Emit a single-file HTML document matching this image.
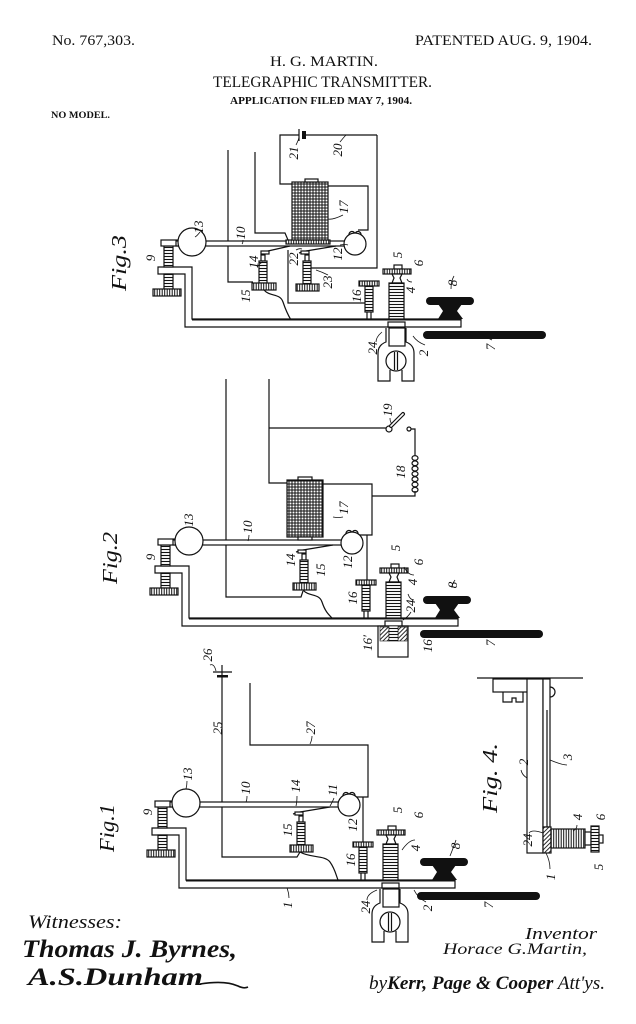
<!DOCTYPE html>
<html><head><meta charset="utf-8">
<style>
html,body{margin:0;padding:0;background:#fff}
svg{display:block}
.t{font-family:"Liberation Serif",serif;fill:#111}
.n{font-family:"Liberation Serif",serif;font-style:italic;font-size:13px;fill:#111}
.f{font-family:"Liberation Serif",serif;font-style:italic;font-size:21px;fill:#111}
</style></head>
<body>
<svg width="636" height="1024" viewBox="0 0 636 1024" xmlns="http://www.w3.org/2000/svg">
<defs>
<pattern id="hs" width="6" height="3" patternUnits="userSpaceOnUse"><rect width="6" height="3" fill="#fff"/><path d="M0,1.5H6" stroke="#111" stroke-width="1.1"/></pattern>
<pattern id="vs" width="2.5" height="6" patternUnits="userSpaceOnUse"><rect width="2.5" height="6" fill="#fff"/><path d="M1.2,0V6" stroke="#111" stroke-width="1"/></pattern>
<pattern id="grid" width="3" height="3" patternUnits="userSpaceOnUse"><rect width="3" height="3" fill="#fff"/><path d="M0,1H3M1,0V3" stroke="#111" stroke-width="1"/></pattern>
<pattern id="diag" width="3" height="3" patternUnits="userSpaceOnUse" patternTransform="rotate(45)"><rect width="3" height="3" fill="#fff"/><path d="M1,0V3" stroke="#111" stroke-width="0.9"/></pattern>

<g id="base" stroke="#111" stroke-width="1.2" fill="none">
  <polygon points="152,828 186,828 186,880 455,880 455,888 179,888 179,835 152,835" fill="#fff"/>
  <line x1="186" y1="880.5" x2="455" y2="880.5" stroke-width="2"/>
  <rect x="158" y="807" width="9" height="21" fill="url(#hs)"/>
  <rect x="158" y="835" width="9" height="15" fill="url(#hs)"/>
  <rect x="147" y="850" width="28" height="7" fill="url(#vs)"/>
  <rect x="155" y="801" width="17" height="6" fill="#fff"/>
  <rect x="170" y="802" width="172" height="5" fill="#fff"/>
  <circle cx="186" cy="803" r="14" fill="#fff"/>
  <path d="M343,796 a3,3 0 1 1 6,-1 a3,3 0 1 1 6,1"/>
  <circle cx="349" cy="805" r="11" fill="#fff"/>
  <path d="M330,807 L300,812 L293,814"/>
  <rect x="295" y="812" width="8" height="3" fill="#fff"/>
  <rect x="299" y="816" width="4" height="6" fill="#fff"/>
  <rect x="297" y="822" width="8" height="23" fill="url(#hs)"/>
  <rect x="290" y="845" width="23" height="7" fill="url(#vs)"/>
  <rect x="353" y="842" width="20" height="5" fill="url(#vs)"/>
  <rect x="359" y="847" width="8" height="26" fill="url(#hs)"/>
  <rect x="361" y="873" width="4" height="7" fill="#fff"/>
  <rect x="388" y="826" width="8" height="4" fill="#fff"/>
  <rect x="377" y="830" width="28" height="5" fill="url(#vs)"/>
  <path d="M386,835 h10 l-2,4 l2,5 h-10 l2,-5z" fill="#fff"/>
  <rect x="383" y="844" width="15" height="36" fill="url(#hs)"/>
  <rect x="382" y="883" width="17" height="5" fill="#fff"/>
  <g fill="#111" stroke="none">
    <rect x="420" y="858" width="48" height="8" rx="4"/>
    <path d="M432,865 H456 L451,872 L457,880 H432 L437,872 Z"/>
    <rect x="417" y="892" width="123" height="8" rx="4"/>
  </g>
</g>

<g id="clamp" stroke="#111" stroke-width="1.2" fill="none">
  <path d="M380,889 V903 Q372,906 372,914 V942 H384 V931 M396,931 V942 H408 V914 Q408,906 400,903 V889" fill="#fff"/>
  <rect x="383" y="889" width="16" height="18" fill="#fff"/>
  <circle cx="390" cy="922" r="10" fill="#fff"/>
  <path d="M388.5,913 V931 M391.5,913 V931"/>
</g>
</defs>

<!-- HEADER -->
<text class="t" x="52" y="45" font-size="15" textLength="83" lengthAdjust="spacingAndGlyphs">No. 767,303.</text>
<text class="t" x="415" y="45" font-size="15" textLength="177" lengthAdjust="spacingAndGlyphs">PATENTED AUG. 9, 1904.</text>
<text class="t" x="270" y="66" font-size="15" textLength="108" lengthAdjust="spacingAndGlyphs">H. G. MARTIN.</text>
<text class="t" x="213" y="87" font-size="16" textLength="219" lengthAdjust="spacingAndGlyphs">TELEGRAPHIC TRANSMITTER.</text>
<text class="t" x="230" y="104" font-size="10" textLength="182" lengthAdjust="spacingAndGlyphs" font-weight="bold">APPLICATION FILED MAY 7, 1904.</text>
<text class="t" x="51" y="118" font-size="9" textLength="59" lengthAdjust="spacingAndGlyphs" font-weight="bold">NO MODEL.</text>

<g stroke="#111" stroke-width="1.2" fill="none">
<!-- FIG 3 wires -->
<path d="M228,150 V282 H253"/>
<path d="M255,152 V233 H285 L288,240"/>
<path d="M288,250 V303 H365"/>
<path d="M377,135 V268 H311"/>
<path d="M292,184 H280 V135 H299"/>
<path d="M299,129 V141"/>
<path d="M306,135 H377"/>
<path d="M328,186 H368 V230 H358"/>
<!-- FIG 2 wires -->
<path d="M226,379 V597 H301 L303,591"/>
<path d="M269,379 V483 H287"/>
<path d="M269,428 H386"/>
<path d="M411,429 H415 V455"/>
<path d="M415,491 V496 H372"/>
<path d="M323,484 H372 V535 H357"/>
<path d="M367,535 V580"/>
<!-- FIG 1 wires -->
<path d="M222,665 V857 H297 L300,852"/>
<path d="M213,672 H232"/>
<path d="M250,683 V745 H368 V797 H356"/>
<path d="M363,797 V842"/>
</g>
<rect x="302" y="131" width="4" height="8" fill="#111"/>
<rect x="217" y="675" width="11" height="2.5" fill="#111"/>

<!-- bases -->
<use href="#base" transform="translate(6,-561)"/>
<use href="#clamp" transform="translate(6,-561)"/>
<use href="#base" transform="translate(3,-262)"/>
<use href="#base"/>
<use href="#clamp"/>

<g stroke="#111" stroke-width="1.2" fill="none">
<!-- FIG 3 specifics -->
<rect x="286" y="240" width="44" height="4" fill="url(#vs)"/>
<rect x="292" y="182" width="36" height="58" fill="url(#grid)"/>
<rect x="305" y="179" width="13" height="3" fill="#fff"/>
<path d="M290,246 L268,251 L263,253"/>
<rect x="261" y="251" width="8" height="3" fill="#fff"/>
<rect x="261" y="255" width="4" height="6" fill="#fff"/>
<rect x="259" y="261" width="8" height="22" fill="url(#hs)"/>
<rect x="252" y="283" width="24" height="7" fill="url(#vs)"/>
<path d="M264,290 C270,297 280,293 283,302 S288,315 291,320"/>
<!-- FIG 2 specifics -->
<rect x="287" y="480" width="36" height="57" fill="url(#grid)"/>
<rect x="298" y="477" width="14" height="3" fill="#fff"/>
<rect x="298" y="537" width="14" height="3" fill="#fff"/>
<path d="M303,590 C309,597 319,593 322,602 S328,614 332,618"/>
<circle cx="389" cy="429" r="3" fill="#fff"/>
<line x1="391" y1="426" x2="403" y2="414" stroke-width="4" stroke-linecap="round"/>
<line x1="391" y1="426" x2="403" y2="414" stroke-width="1.6" stroke="#fff" stroke-linecap="round"/>
<circle cx="409" cy="429" r="2" fill="#fff"/>
<ellipse cx="415" cy="458" rx="3" ry="2.4"/>
<ellipse cx="415" cy="463.3" rx="3" ry="2.4"/>
<ellipse cx="415" cy="468.6" rx="3" ry="2.4"/>
<ellipse cx="415" cy="473.9" rx="3" ry="2.4"/>
<ellipse cx="415" cy="479.2" rx="3" ry="2.4"/>
<ellipse cx="415" cy="484.5" rx="3" ry="2.4"/>
<ellipse cx="415" cy="489.8" rx="3" ry="2.4"/>
<rect x="378" y="626" width="30" height="31" fill="#fff"/>
<rect x="380" y="627" width="9" height="14" fill="url(#diag)" stroke-width="0.6"/>
<rect x="398" y="627" width="9" height="14" fill="url(#diag)" stroke-width="0.6"/>
<rect x="389" y="626" width="9" height="15" fill="url(#hs)" stroke-width="0.6"/>
<!-- FIG 1 specifics -->
<path d="M300,852 C310,858 325,855 330,862 S336,875 338,880"/>
<!-- FIG 4 -->
<path d="M477,678 H583"/>
<rect x="493" y="679" width="39" height="13" fill="#fff"/>
<path d="M503,692 V702 H512 V698 H516 V702 H523 V692"/>
<rect x="527" y="679" width="16" height="174" fill="#fff"/>
<rect x="543" y="679" width="7" height="148" fill="#fff"/>
<path d="M547,710 V827"/>
<path d="M550,687 A5,5 0 0 1 550,697"/>
<rect x="543" y="827" width="8" height="26" fill="url(#diag)"/>
<rect x="551" y="829" width="34" height="19" fill="url(#vs)"/>
<rect x="585" y="832" width="6" height="13" fill="#fff"/>
<rect x="591" y="826" width="8" height="26" fill="url(#hs)"/>
<rect x="599" y="835" width="4" height="8" fill="#fff"/>
</g>

<!-- leaders -->
<g stroke="#111" stroke-width="0.8" fill="none">
<path d="M296,145 q3,-6 3,-8"/><path d="M340,142 q4,-5 6,-7"/><path d="M343,215 q-10,5 -15,4"/>
<path d="M200,232 q-3,4 -5,5"/><path d="M243,240 q0,3 -1,4"/><path d="M257,267 q3,-4 6,-5"/>
<path d="M296,250 q3,-2 6,-1"/><path d="M340,245 q5,-1 8,0"/><path d="M328,275 q-6,-3 -12,-5"/>
<path d="M412,282 q-4,0 -5,-3"/><path d="M454,276 q-3,5 -3,13"/><path d="M376,342 q0,-5 6,-10"/><path d="M425,345 q-8,-3 -12,-9"/><path d="M492,340 q-8,-4 -14,-8"/>
<path d="M390,418 q0,4 2,6"/><path d="M343,517 q-5,1 -10,0"/><path d="M249,535 q0,3 -1,6"/><path d="M455,580 q-3,4 -3,8"/><path d="M414,600 q-4,0 -6,-6"/><path d="M411,612 q-3,5 -8,8"/><path d="M414,575 q-6,0 -10,-8"/>
<path d="M187,781 q0,4 -1,8"/><path d="M247,796 q0,4 -1,6"/><path d="M297,796 q0,6 -1,10"/><path d="M334,798 q-2,5 -4,8"/><path d="M210,665 q4,-2 6,6"/><path d="M312,736 q0,4 -2,8"/>
<path d="M415,840 q-6,0 -13,10"/><path d="M456,840 q-2,6 -6,16"/><path d="M289,898 q0,-5 -2,-10"/><path d="M367,900 q0,-6 10,-10"/><path d="M426,902 q-8,-4 -12,-12"/><path d="M488,898 q-8,-2 -13,-2"/>
<path d="M521,770 q1,5 6,8"/><path d="M567,765 q-5,0 -17,-5"/><path d="M529,833 q3,-4 14,0"/><path d="M550,869 q0,-8 -4,-16"/><path d="M577,825 q0,4 -4,6"/>
</g>

<!-- labels FIG 3 -->
<g class="n">
<text transform="translate(298,153) rotate(-90)" text-anchor="middle">21</text>
<text transform="translate(342,150) rotate(-90)" text-anchor="middle">20</text>
<text transform="translate(348,207) rotate(-90)" text-anchor="middle">17</text>
<text transform="translate(203,227) rotate(-90)" text-anchor="middle">13</text>
<text transform="translate(245,233) rotate(-90)" text-anchor="middle">10</text>
<text transform="translate(155,258) rotate(-90)" text-anchor="middle">9</text>
<text transform="translate(258,262) rotate(-90)" text-anchor="middle">14</text>
<text transform="translate(298,259) rotate(-90)" text-anchor="middle">22</text>
<text transform="translate(342,254) rotate(-90)" text-anchor="middle">12</text>
<text transform="translate(402,255) rotate(-90)" text-anchor="middle">5</text>
<text transform="translate(423,263) rotate(-90)" text-anchor="middle">6</text>
<text transform="translate(332,282) rotate(-90)" text-anchor="middle">23</text>
<text transform="translate(250,296) rotate(-90)" text-anchor="middle">15</text>
<text transform="translate(361,296) rotate(-90)" text-anchor="middle">16</text>
<text transform="translate(415,290) rotate(-90)" text-anchor="middle">4</text>
<text transform="translate(457,283) rotate(-90)" text-anchor="middle">8</text>
<text transform="translate(377,348) rotate(-90)" text-anchor="middle">24</text>
<text transform="translate(428,353) rotate(-90)" text-anchor="middle">2</text>
<text transform="translate(495,347) rotate(-90)" text-anchor="middle">7</text>
</g>
<!-- labels FIG 2 -->
<g class="n">
<text transform="translate(392,410) rotate(-90)" text-anchor="middle">19</text>
<text transform="translate(405,472) rotate(-90)" text-anchor="middle">18</text>
<text transform="translate(348,508) rotate(-90)" text-anchor="middle">17</text>
<text transform="translate(193,520) rotate(-90)" text-anchor="middle">13</text>
<text transform="translate(252,527) rotate(-90)" text-anchor="middle">10</text>
<text transform="translate(155,557) rotate(-90)" text-anchor="middle">9</text>
<text transform="translate(295,560) rotate(-90)" text-anchor="middle">14</text>
<text transform="translate(325,570) rotate(-90)" text-anchor="middle">15</text>
<text transform="translate(352,562) rotate(-90)" text-anchor="middle">12</text>
<text transform="translate(400,548) rotate(-90)" text-anchor="middle">5</text>
<text transform="translate(423,562) rotate(-90)" text-anchor="middle">6</text>
<text transform="translate(357,598) rotate(-90)" text-anchor="middle">16</text>
<text transform="translate(417,582) rotate(-90)" text-anchor="middle">4</text>
<text transform="translate(415,606) rotate(-90)" text-anchor="middle">24</text>
<text transform="translate(457,585) rotate(-90)" text-anchor="middle">8</text>
<text transform="translate(372,643) rotate(-90)" text-anchor="middle">16′</text>
<text transform="translate(432,643) rotate(-90)" text-anchor="middle">16″</text>
<text transform="translate(495,643) rotate(-90)" text-anchor="middle">7</text>
</g>
<!-- labels FIG 1 -->
<g class="n">
<text transform="translate(212,655) rotate(-90)" text-anchor="middle">26</text>
<text transform="translate(222,728) rotate(-90)" text-anchor="middle">25</text>
<text transform="translate(315,728) rotate(-90)" text-anchor="middle">27</text>
<text transform="translate(192,774) rotate(-90)" text-anchor="middle">13</text>
<text transform="translate(250,788) rotate(-90)" text-anchor="middle">10</text>
<text transform="translate(300,786) rotate(-90)" text-anchor="middle">14</text>
<text transform="translate(337,790) rotate(-90)" text-anchor="middle">11</text>
<text transform="translate(152,812) rotate(-90)" text-anchor="middle">9</text>
<text transform="translate(292,830) rotate(-90)" text-anchor="middle">15</text>
<text transform="translate(357,825) rotate(-90)" text-anchor="middle">12</text>
<text transform="translate(402,810) rotate(-90)" text-anchor="middle">5</text>
<text transform="translate(423,815) rotate(-90)" text-anchor="middle">6</text>
<text transform="translate(420,848) rotate(-90)" text-anchor="middle">4</text>
<text transform="translate(355,860) rotate(-90)" text-anchor="middle">16</text>
<text transform="translate(460,846) rotate(-90)" text-anchor="middle">8</text>
<text transform="translate(292,905) rotate(-90)" text-anchor="middle">1</text>
<text transform="translate(370,907) rotate(-90)" text-anchor="middle">24</text>
<text transform="translate(432,908) rotate(-90)" text-anchor="middle">2</text>
<text transform="translate(493,905) rotate(-90)" text-anchor="middle">7</text>
</g>
<!-- labels FIG 4 -->
<g class="n">
<text transform="translate(528,762) rotate(-90)" text-anchor="middle">2</text>
<text transform="translate(572,757) rotate(-90)" text-anchor="middle">3</text>
<text transform="translate(532,840) rotate(-90)" text-anchor="middle">24</text>
<text transform="translate(555,877) rotate(-90)" text-anchor="middle">1</text>
<text transform="translate(582,817) rotate(-90)" text-anchor="middle">4</text>
<text transform="translate(605,817) rotate(-90)" text-anchor="middle">6</text>
<text transform="translate(603,867) rotate(-90)" text-anchor="middle">5</text>
</g>

<!-- figure titles -->
<text class="f" transform="translate(126,263) rotate(-90)" text-anchor="middle" textLength="56" lengthAdjust="spacingAndGlyphs">Fig.3</text>
<text class="f" transform="translate(117,558) rotate(-90)" text-anchor="middle" textLength="52" lengthAdjust="spacingAndGlyphs">Fig.2</text>
<text class="f" transform="translate(114,828) rotate(-90)" text-anchor="middle" textLength="48" lengthAdjust="spacingAndGlyphs">Fig.1</text>
<text class="f" transform="translate(497,778) rotate(-90)" text-anchor="middle" textLength="70" lengthAdjust="spacingAndGlyphs">Fig. 4.</text>

<!-- BOTTOM TEXT -->
<text class="t" x="28" y="928" font-size="19" font-style="italic" textLength="94" lengthAdjust="spacingAndGlyphs">Witnesses:</text>
<text class="t" x="22" y="957" font-size="25" font-style="italic" font-weight="bold" textLength="215" lengthAdjust="spacingAndGlyphs">Thomas J. Byrnes,</text>
<text class="t" x="28" y="985" font-size="25" font-style="italic" font-weight="bold" textLength="175" lengthAdjust="spacingAndGlyphs">A.S.Dunham</text>
<path d="M200,984 Q225,980 238,986 Q244,989 248,987" stroke="#111" stroke-width="1.6" fill="none"/>
<text class="t" x="525" y="939" font-size="17" font-style="italic" textLength="72" lengthAdjust="spacingAndGlyphs">Inventor</text>
<text class="t" x="443" y="954" font-size="16" font-style="italic" textLength="144" lengthAdjust="spacingAndGlyphs">Horace G.Martin,</text>
<text class="t" x="369" y="989" font-size="19" font-style="italic" textLength="236" lengthAdjust="spacingAndGlyphs">by<tspan font-weight="bold">Kerr, Page &amp; Cooper</tspan> Att'ys.</text>
</svg>
</body></html>
